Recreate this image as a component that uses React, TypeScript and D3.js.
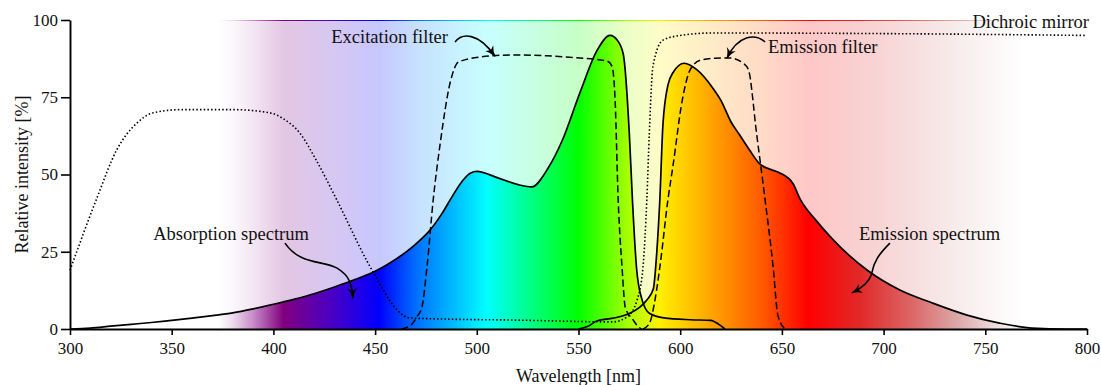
import React, { useEffect, useRef } from 'react';
import * as d3 from 'd3';

// [wavelength nm, relative intensity %]
const absorption: [number, number][] = [
  [300, 0], [310, 0.3], [320, 0.9], [330, 1.5], [340, 2.1], [350, 2.8], [360, 3.5],
  [370, 4.3], [380, 5.2], [390, 6.5], [400, 8], [410, 9.6], [420, 11.4], [430, 13.6],
  [440, 16], [450, 18.7], [460, 22.5], [470, 27.5], [477, 32], [483, 37.5], [488, 43],
  [493, 48], [497, 50.5], [500, 51], [510, 49], [521, 46.6], [527, 46], [535, 52],
  [542, 61], [551, 77], [559, 90], [565.5, 95], [569, 93.5], [572, 89], [575, 63],
  [576.5, 42], [578.5, 20], [581, 10], [585, 5], [592, 3.6], [605, 3], [615, 2.8],
  [619, 1.5], [622, 0],
];

const emission: [number, number][] = [
  [550, 0], [555, 1], [559, 2.6], [567, 3.5], [575, 5], [580, 7], [583.6, 9.4],
  [586.8, 13], [588.5, 25], [590, 42], [591.5, 66], [594, 79], [596.5, 83], [602, 86],
  [608, 84], [616, 78], [620, 74], [625, 67], [629, 63], [634, 58], [639, 53.5],
  [645, 51.5], [649, 50.5], [655.5, 47], [659, 42], [667, 35], [675, 29], [692, 19],
  [708, 12.6], [724, 8.4], [741, 4.5], [757, 1.9], [773, 0.3], [790, 0], [800, 0],
];

const excitationFilter: [number, number][] = [
  [463, 0], [468, 1.5], [470.6, 4], [473, 7], [475.5, 20], [478.6, 42], [482, 60],
  [487, 80], [491, 86.4], [501.6, 88], [518, 88.7], [534.5, 88.4], [550.7, 87.7],
  [564, 86.7], [566.5, 85], [568, 74], [569.5, 42], [571.4, 20], [573, 7],
  [576.8, 3], [579, 1], [581, 0],
];

const emissionFilter: [number, number][] = [
  [581.7, 0], [585, 2], [587.6, 9.4], [590, 20], [594, 42], [596.5, 53], [601, 74],
  [605, 84], [610, 87], [617, 87.6], [624.5, 87.7], [631, 86], [633.5, 84],
  [637.6, 63], [641.7, 42], [645.7, 20], [648, 4.5], [651.5, 0],
];

const dichroicMirror: [number, number][] = [
  [300, 19], [313, 42], [323, 58], [333, 66.7], [341, 70], [355.6, 71], [380, 71],
  [398, 70], [405, 68], [413, 63.4], [421, 54.7], [431, 42], [446, 22], [452, 15],
  [457, 9.4], [461, 6], [467, 3.6], [485, 3.2], [518, 2.9], [567, 2.3], [574, 4],
  [578.8, 9.4], [581.7, 20], [583.6, 42], [584.8, 63], [586.6, 85], [591.5, 93.5],
  [600, 95], [616, 95.8], [700, 95.6], [800, 95],
];

// visible light colour stops
const spectrumNm = [373, 380, 390, 405, 430, 452, 470, 505, 550, 575, 590, 615, 640, 663, 688, 713, 737, 760, 770];
const spectrumColors = [
  '#ffffff', '#ecdcec', '#c98cc9', '#800080', '#4600c8', '#0000ff', '#006eff',
  '#00ffff', '#00ff00', '#aaff00', '#fff000', '#ffa500', '#ff5a00', '#ff0000',
  '#e12828', '#dc6464', '#dcaaaa', '#f5ebeb', '#ffffff',
];

const xTicks = [300, 350, 400, 450, 500, 550, 600, 650, 700, 750, 800];
const yTicks = [0, 25, 50, 75, 100];

// annotation texts: [label, nm, value, anchor]
const labels: [string, number, number, string][] = [
  ['Excitation filter', 485.8, 92.6, 'end'],
  ['Emission filter', 643.2, 89.3, 'start'],
  ['Dichroic mirror', 801, 97.4, 'end'],
  ['Absorption spectrum', 379.2, 28.8, 'middle'],
  ['Emission spectrum', 722.6, 28.8, 'middle'],
];

// arrows as cubic bezier segments in data units: start, then [c1, c2, end] ...
const arrows: [number, number][][] = [
  [[405.7, 27.8], [413.1, 20.7], [423.9, 22.3], [431.3, 19.7], [437.7, 17.2], [438.6, 14.2], [439.1, 10]],
  [[489.3, 92.9], [492.7, 95.8], [500.6, 96.1], [508.9, 88.3]],
  [[641.7, 92.9], [636.8, 95.8], [628.4, 95.1], [623, 87.7]],
  [[703.1, 27.8], [697.2, 23.9], [695.3, 21.7], [694.3, 18.4], [693.3, 15.2], [689.4, 13.3], [684.5, 11.7]],
];

const FONT = '"Liberation Serif", "Times New Roman", serif';

const App = () => {
  const svgRef = useRef<SVGSVGElement>(null);

  useEffect(() => {
    const svg = d3.select(svgRef.current);
    svg.selectAll('*').remove();

    const x = d3.scaleLinear().domain([300, 800]).range([70, 1087]);
    const y = d3.scaleLinear().domain([0, 100]).range([329, 20]);

    const defs = svg.append('defs');
    const grad = defs
      .append('linearGradient')
      .attr('id', 'spectrum')
      .attr('gradientUnits', 'userSpaceOnUse')
      .attr('x1', x(300))
      .attr('x2', x(800))
      .attr('y1', 0)
      .attr('y2', 0);
    spectrumNm.forEach((nm, i) => {
      grad
        .append('stop')
        .attr('offset', (nm - 300) / 500)
        .attr('stop-color', spectrumColors[i]);
    });

    defs
      .append('marker')
      .attr('id', 'arrow')
      .attr('viewBox', '0 -5 10 10')
      .attr('refX', 9)
      .attr('refY', 0)
      .attr('markerWidth', 11)
      .attr('markerHeight', 11)
      .attr('markerUnits', 'userSpaceOnUse')
      .attr('orient', 'auto')
      .append('path')
      .attr('d', 'M0,-4.5 Q4,-1.2 10,0 Q4,1.2 0,4.5 L2.5,0 Z')
      .attr('fill', '#000');

    // light spectrum background
    svg
      .append('rect')
      .attr('x', x(300))
      .attr('y', y(100))
      .attr('width', x(800) - x(300))
      .attr('height', y(0) - y(100))
      .attr('fill', 'url(#spectrum)')
      .attr('opacity', 0.22);

    svg
      .append('line')
      .attr('x1', x(300))
      .attr('x2', x(800))
      .attr('y1', y(100) + 0.5)
      .attr('y2', y(100) + 0.5)
      .attr('stroke', 'url(#spectrum)')
      .attr('stroke-width', 1.2);

    const area = d3
      .area<[number, number]>()
      .x((d) => x(d[0]))
      .y0(y(0))
      .y1((d) => y(d[1]))
      .curve(d3.curveMonotoneX);

    const line = d3
      .line<[number, number]>()
      .x((d) => x(d[0]))
      .y((d) => y(d[1]))
      .curve(d3.curveMonotoneX);

    [absorption, emission].forEach((s) => {
      svg.append('path').attr('d', area(s)).attr('fill', 'url(#spectrum)');
    });

    svg
      .append('path')
      .attr('d', line(dichroicMirror))
      .attr('fill', 'none')
      .attr('stroke', '#000')
      .attr('stroke-width', 1.6)
      .attr('stroke-dasharray', '1.5,2.2');

    [excitationFilter, emissionFilter].forEach((s) => {
      svg
        .append('path')
        .attr('d', line(s))
        .attr('fill', 'none')
        .attr('stroke', '#000')
        .attr('stroke-width', 1.5)
        .attr('stroke-dasharray', '7,3.5');
    });

    [absorption, emission].forEach((s) => {
      svg
        .append('path')
        .attr('d', line(s))
        .attr('fill', 'none')
        .attr('stroke', '#000')
        .attr('stroke-width', 1.7);
    });

    // axes
    const xAxis = svg
      .append('g')
      .attr('transform', `translate(0, ${y(0)})`)
      .call(d3.axisBottom(x).tickValues(xTicks).tickSize(6).tickSizeOuter(0).tickPadding(7));
    const yAxis = svg
      .append('g')
      .attr('transform', `translate(${x(300)}, 0)`)
      .call(d3.axisLeft(y).tickValues(yTicks).tickSize(9).tickSizeOuter(0).tickPadding(3));
    [xAxis, yAxis].forEach((g) => {
      g.select('.domain').attr('stroke-width', 1.9);
      g.selectAll('.tick line').attr('stroke-width', 1.6);
      g.selectAll('.tick text')
        .attr('font-family', FONT)
        .attr('font-size', 17)
        .attr('fill', '#111');
    });

    svg
      .append('text')
      .attr('x', (x(300) + x(800)) / 2)
      .attr('y', 382)
      .attr('text-anchor', 'middle')
      .attr('font-family', FONT)
      .attr('font-size', 18)
      .attr('fill', '#111')
      .text('Wavelength [nm]');

    svg
      .append('text')
      .attr('transform', `translate(28, ${(y(0) + y(100)) / 2}) rotate(-90)`)
      .attr('text-anchor', 'middle')
      .attr('font-family', FONT)
      .attr('font-size', 18)
      .attr('fill', '#111')
      .text('Relative intensity [%]');

    // annotations
    labels.forEach(([t, nm, v, anchor]) => {
      svg
        .append('text')
        .attr('x', x(nm))
        .attr('y', y(v))
        .attr('text-anchor', anchor)
        .attr('font-family', FONT)
        .attr('font-size', 18.5)
        .attr('fill', '#111')
        .text(t);
    });

    arrows.forEach((pts) => {
      const p = d3.path();
      p.moveTo(x(pts[0][0]), y(pts[0][1]));
      for (let i = 1; i + 2 < pts.length; i += 3) {
        p.bezierCurveTo(
          x(pts[i][0]), y(pts[i][1]),
          x(pts[i + 1][0]), y(pts[i + 1][1]),
          x(pts[i + 2][0]), y(pts[i + 2][1])
        );
      }
      svg
        .append('path')
        .attr('d', p.toString())
        .attr('fill', 'none')
        .attr('stroke', '#000')
        .attr('stroke-width', 1.6)
        .attr('marker-end', 'url(#arrow)');
    });
  }, []);

  return (
    <svg
      ref={svgRef}
      width={1101}
      height={385}
      style={{ position: 'absolute', left: 0, top: 0, background: '#fff' }}
    />
  );
};

export default App;
